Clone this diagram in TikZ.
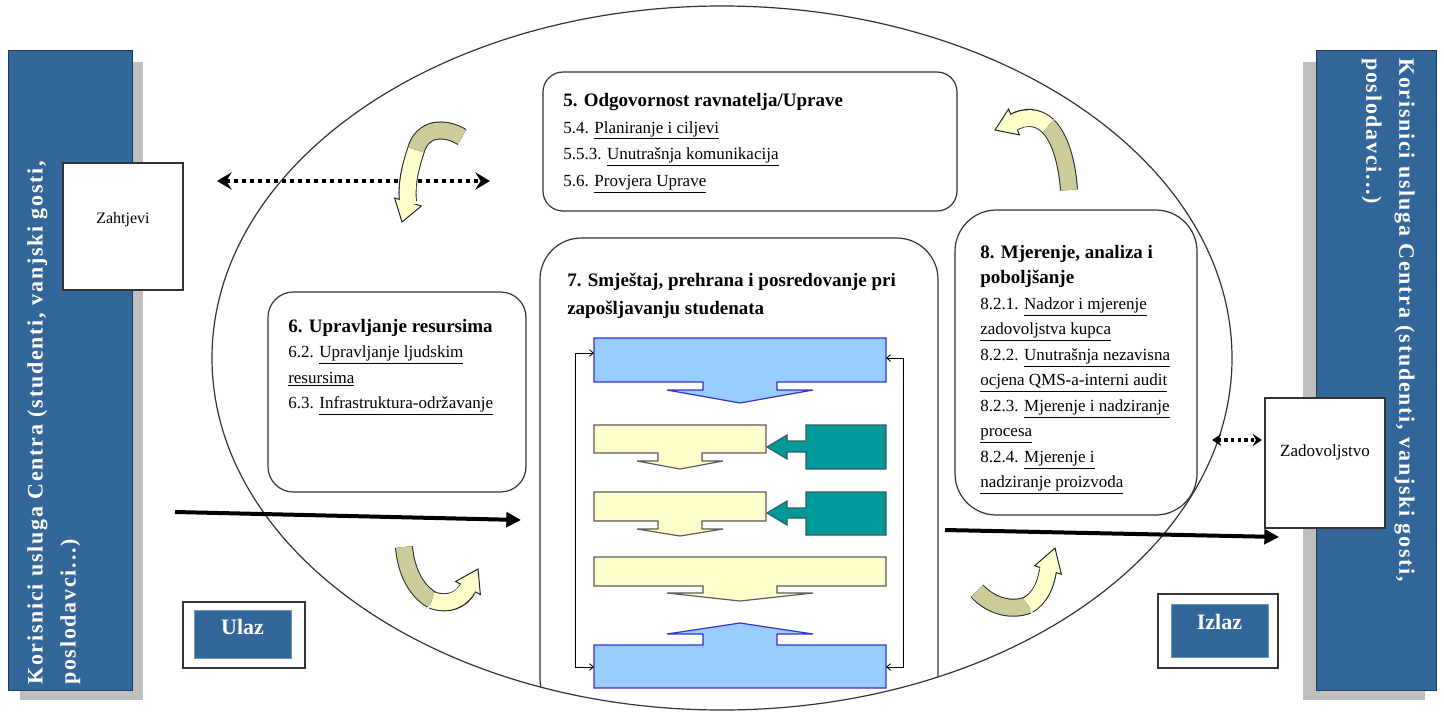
\documentclass[tikz,border=0pt]{standalone}
\usepackage{fontspec}
\setmainfont{Liberation Serif}
\newfontfamily\barfont[LetterSpace=8]{Liberation Serif}
\usetikzlibrary{arrows.meta,calc}
\definecolor{barblue}{HTML}{336699}
\definecolor{bardark}{HTML}{1F3A5A}
\definecolor{shadowgray}{HTML}{BFBFBF}
\definecolor{lblue}{HTML}{99CCFF}
\definecolor{dblue}{HTML}{3333CC}
\definecolor{lyellow}{HTML}{FFFFCC}
\definecolor{ygray}{HTML}{5A5A5A}
\definecolor{tealfill}{HTML}{009999}
\definecolor{tealdark}{HTML}{2F5F5F}
\definecolor{khaki}{HTML}{CCCC99}
\definecolor{boxline}{HTML}{333333}
\newcommand{\ttlfont}{\fontsize{14.25}{19.125}\selectfont\bfseries}
\newcommand{\bdyfont}{\fontsize{12.75}{19.125}\selectfont}
\tikzset{
  rbox/.style={draw=boxline, line width=0.9pt, inner sep=0pt},
  sqbox/.style={draw=boxline, line width=0.9pt, fill=white, inner sep=0pt},
  btext/.style={anchor=north west, inner sep=0pt, font=\bdyfont, align=left},
  bluebar/.style={fill=lblue, draw=dblue, line width=0.9pt},
  yelbar/.style={fill=lyellow, draw=ygray, line width=0.9pt},
  tealbox/.style={fill=tealfill, draw=tealdark, line width=0.9pt},
  fback/.style={draw=black, line width=0.6pt, {Straight Barb[length=3pt,width=5pt]}-{Straight Barb[length=3pt,width=5pt]}},
  bigarrow/.style={draw=black, line width=3pt, -{Triangle[length=11pt,width=11pt]}},
  dotarrow/.style={draw=black, line width=3pt, dash pattern=on 3pt off 3pt,
     {Stealth[length=11pt,width=13pt,inset=4pt]}-{Stealth[length=11pt,width=13pt,inset=4pt]}},
  dotarrowsm/.style={draw=black, line width=2.5pt, dash pattern=on 2.5pt off 2.5pt,
     {Stealth[length=7pt,width=9pt,inset=2.5pt]}-{Stealth[length=7pt,width=9pt,inset=2.5pt]}},
  rbline/.style={draw=black!85, line width=13.5pt},
  rbdark/.style={draw=khaki, line width=12pt},
  rblight/.style={draw=lyellow, line width=12pt, shorten >=-2pt},
  rbhead/.style={fill=lyellow, draw=black!85, line width=0.75pt, line join=miter},
  bartext/.style={inner sep=0pt, text=white, text width=450pt,
     font=\barfont\bfseries\fontsize{16.5}{24.75}\selectfont},
  tagtext/.style={inner sep=0pt, text=white, font=\bfseries\fontsize{16.5}{20}\selectfont},
}
\newcommand{\ribbon}[6]{%
  \draw[rbline] #1;
  \draw[rbdark] #1;
  \draw[rbline] #2;
  \filldraw[rbhead] ($#3!10.5pt!90:#4$) -- #4 -- ($#3!10.5pt!-90:#4$) -- cycle;
  \draw[rblight] #2;
}
\begin{document}
\begin{tikzpicture}[x=0.75pt,y=-0.75pt]
\useasboundingbox (0,0) rectangle (1444,727);

% ---- side bars ----
\fill[shadowgray] (20,62) rectangle (143,700);
\node[draw=bardark, fill=barblue, line width=0.9pt, minimum width=93pt, minimum height=480pt, inner sep=0pt, anchor=north west] (lbar) at (8,50) {};
\node[bartext, rotate=90, anchor=north west] (ltext) at (27,685)
  {Korisnici usluga Centra (studenti, vanjski gosti,\linebreak poslodavci...)};

\fill[shadowgray] (1303,62) rectangle (1425,700);
\node[draw=bardark, fill=barblue, line width=0.9pt, minimum width=90pt, minimum height=480pt, inner sep=0pt, anchor=north west] (rbar) at (1316,50) {};
\node[bartext, rotate=-90, anchor=north west] (rtext) at (1415,58)
  {Korisnici usluga Centra (studenti, vanjski gosti,\linebreak poslodavci...)};

% ---- ellipse ----
\draw[draw=boxline, line width=0.9pt] (722,358) ellipse [x radius=382.5pt, y radius=264pt];

% ---- box 7 clipped by ellipse ----
\begin{scope}
  \clip (722,358) ellipse [x radius=382.5pt, y radius=264pt];
  \node[rbox, rounded corners=31pt, minimum width=298.5pt, minimum height=361.5pt] (b7) at (739,479) {};
\end{scope}

% ---- boxes ----
\node[rbox, rounded corners=15pt, minimum width=310.5pt, minimum height=104.25pt] (b5) at (750,141.5) {};
\node[rbox, rounded corners=19pt, minimum width=193.5pt, minimum height=150pt] (b6) at (397,392) {};
\node[rbox, rounded corners=31pt, minimum width=181.5pt, minimum height=228.75pt] (b8) at (1076,362.5) {};

% ---- box texts ----
\node[btext, font=\fontsize{12.75}{20}\selectfont] (t5) at (563,93) {{\ttlfont 5. Odgovornost ravnatelja/Uprave}\\
5.4. \underline{Planiranje i ciljevi}\\
5.5.3. \underline{Unutrašnja komunikacija}\\
5.6. \underline{Provjera Uprave}};

\node[btext] (t6) at (288,319) {{\ttlfont 6. Upravljanje resursima}\\
6.2. \underline{Upravljanje ljudskim}\\
\underline{resursima}\\
6.3. \underline{Infrastruktura-održavanje}};

\node[btext, font=\ttlfont\fontsize{14.25}{21}\selectfont] (t7) at (567,273) {7. Smještaj, prehrana i posredovanje pri\\
zapošljavanju studenata};

\node[btext] (t8) at (980,245) {{\ttlfont 8. Mjerenje, analiza i}\\
{\ttlfont poboljšanje}\\
8.2.1. \underline{Nadzor i mjerenje}\\
\underline{zadovoljstva kupca}\\
8.2.2. \underline{Unutrašnja nezavisna}\\
\underline{ocjena QMS-a-interni audit}\\
8.2.3. \underline{Mjerenje i nadziranje}\\
\underline{procesa}\\
8.2.4. \underline{Mjerenje i}\\
\underline{nadziranje proizvoda}};

% ---- flowchart inside box 7 ----
\draw[bluebar] (594,338) -- (886,338) -- (886,382) -- (777,382) -- (777,390) -- (813,390)
  -- (740,403) -- (667,390) -- (703,390) -- (703,382) -- (594,382) -- cycle;
\draw[yelbar] (594,425) -- (766,425) -- (766,453) -- (702,453) -- (702,461) -- (723,461)
  -- (680,469) -- (637,461) -- (658,461) -- (658,453) -- (594,453) -- cycle;
\draw[tealbox] (886,425) -- (886,469) -- (806,469) -- (806,452) -- (787,452) -- (787,459)
  -- (767,447) -- (787,435) -- (787,441) -- (806,441) -- (806,425) -- cycle;
\draw[yelbar] (594,492) -- (766,492) -- (766,521) -- (702,521) -- (702,529) -- (723,529)
  -- (680,536) -- (637,529) -- (658,529) -- (658,521) -- (594,521) -- cycle;
\draw[tealbox] (886,492) -- (886,535) -- (806,535) -- (806,518) -- (787,518) -- (787,525)
  -- (767,513) -- (787,501) -- (787,508) -- (806,508) -- (806,492) -- cycle;
\draw[yelbar] (594,557) -- (886,557) -- (886,586) -- (777,586) -- (777,593) -- (813,593)
  -- (740,601) -- (667,593) -- (703,593) -- (703,586) -- (594,586) -- cycle;
\draw[bluebar] (594,645) -- (703,645) -- (703,634) -- (667,634) -- (740,623) -- (813,634)
  -- (777,634) -- (777,645) -- (886,645) -- (886,688) -- (594,688) -- cycle;
\draw[fback] (594,667) -- (575,667) -- (575,353) -- (594,353);
\draw[fback] (886,358) -- (903,358) -- (903,667) -- (886,667);

% ---- Zahtjevi / Zadovoljstvo ----
\node[sqbox, minimum width=90pt, minimum height=95.25pt] (zah) at (123,226.5) {};
\node[inner sep=0pt, font=\fontsize{12}{14}\selectfont] (zaht) at (123,220) {Zahtjevi};
\node[sqbox, minimum width=90pt, minimum height=97.5pt] (zad) at (1325,463) {};
\node[inner sep=0pt, font=\fontsize{12.75}{15}\selectfont] (zadt) at (1325,452) {Zadovoljstvo};

% ---- Ulaz / Izlaz ----
\node[sqbox, minimum width=91.5pt, minimum height=49.5pt] (ulazo) at (244,635) {};
\node[fill=barblue, draw=barblue!70!white, line width=0.4pt, minimum width=72.75pt, minimum height=36pt, inner sep=0pt] (ulazi) at (242.5,634) {};
\node[tagtext] (ulazt) at (242.5,627) {Ulaz};
\node[sqbox, minimum width=90pt, minimum height=55.5pt] (izlazo) at (1218,631) {};
\node[fill=barblue, draw=barblue!70!white, line width=0.4pt, minimum width=72.75pt, minimum height=39.75pt, inner sep=0pt] (izlazi) at (1219.5,630.5) {};
\node[tagtext] (izlazt) at (1219.5,622) {Izlaz};

% ---- connectors ----
\coordinate (zA) at (217,181); \coordinate (zB) at (490,181);
\draw[dotarrow] (zA) -- (zB);
\coordinate (sA) at (1212,440); \coordinate (sB) at (1262,440);
\draw[dotarrowsm] (sA) -- (sB);
\coordinate (uA) at (175,512); \coordinate (uB) at (521,520);
\draw[bigarrow] (uA) -- (uB);
\coordinate (iA) at (945,530); \coordinate (iB) at (1279,537);
\draw[bigarrow] (iA) -- (iB);

% ---- curved ribbon arrows ----
\ribbon{(462,137) .. controls (444,126) and (422,128) .. (416,150)}
       {(416,150) .. controls (410,168) and (406,185) .. (408,202)}
       {(408,202)}{(402,222)}{}{}
\ribbon{(1069,190) .. controls (1067,162) and (1060,138) .. (1048,126)}
       {(1048,126) .. controls (1038,116) and (1024,116) .. (1014,122)}
       {(1014,122)}{(995,130)}{}{}
\ribbon{(404,547) .. controls (406,570) and (415,590) .. (432,600)}
       {(432,600) .. controls (448,606) and (462,600) .. (468,588)}
       {(468,588)}{(478,569)}{}{}
\ribbon{(977,591) .. controls (990,605) and (1010,612) .. (1028,605)}
       {(1028,605) .. controls (1040,598) and (1046,585) .. (1048,570)}
       {(1048,570)}{(1055,548)}{}{}
\end{tikzpicture}
\end{document}
